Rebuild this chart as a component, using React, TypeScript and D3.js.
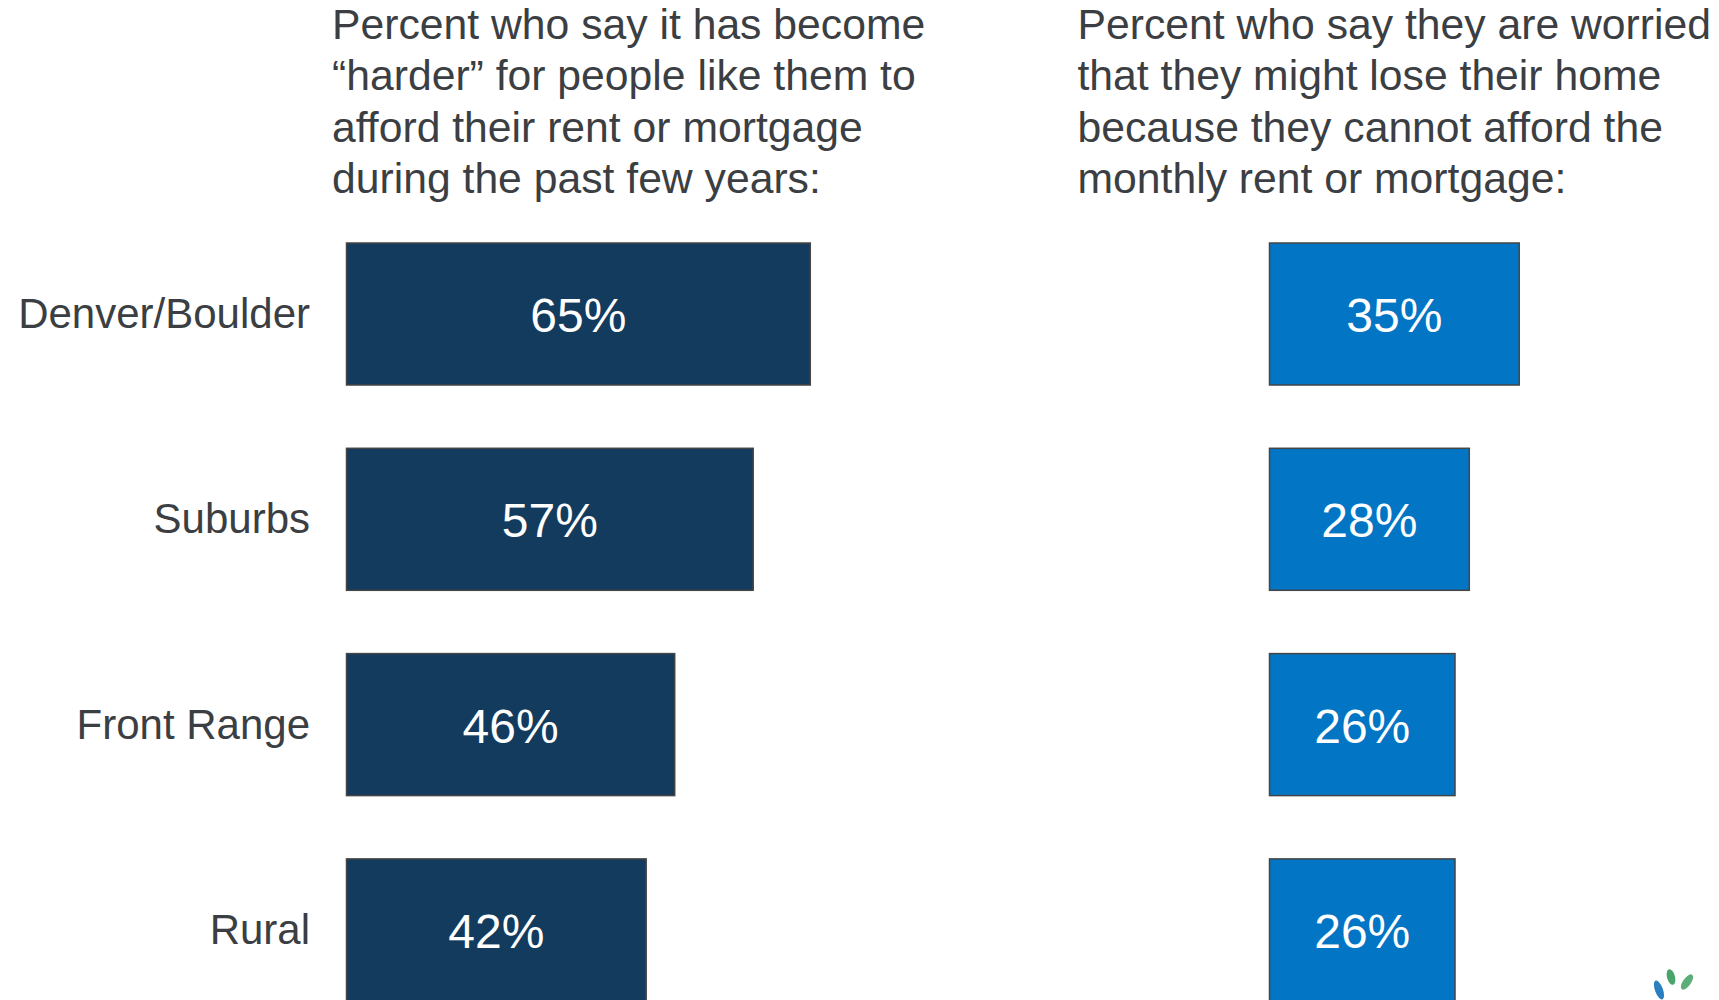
import React from "react";
import * as d3 from "d3";

const categories = ["Denver/Boulder", "Suburbs", "Front Range", "Rural"];
const harderValues = [65, 57, 46, 42];
const worriedValues = [35, 28, 26, 26];
const leftTitle = [
  "Percent who say it has become",
  "\u201Charder\u201D for people like them to",
  "afford their rent or mortgage",
  "during the past few years:",
];
const rightTitle = [
  "Percent who say they are worried",
  "that they might lose their home",
  "because they cannot afford the",
  "monthly rent or mortgage:",
];

const W = 1719;
const H = 1000;
const FONT = "'Liberation Sans', Arial, Helvetica, sans-serif";
const TEXT = "#3b3e42";

export default function App() {
  const x = d3.scaleLinear().domain([0, 100]).range([0, 713.5]);
  const y = d3
    .scaleBand<string>()
    .domain(categories)
    .range([243, 1000.9])
    .paddingInner(0.3083)
    .paddingOuter(0);
  const bw = y.bandwidth();

  const panels = [
    { x0: 346.5, values: harderValues, fill: "#133b5e", title: leftTitle, tx: 332 },
    { x0: 1269.5, values: worriedValues, fill: "#0275c4", title: rightTitle, tx: 1077.5 },
  ];

  return (
    <svg
      width={W}
      height={H}
      style={{ position: "absolute", left: 0, top: 0, background: "#fff" }}
      fontFamily={FONT}
    >
      <rect x={0} y={0} width={W} height={H} fill="#fff" />
      {panels.map((p, pi) => (
        <g key={pi}>
          {p.title.map((line, i) => (
            <text key={i} x={p.tx} y={38.5 + 51.6 * i} fontSize={42.7} fill={TEXT}>
              {line}
            </text>
          ))}
          {categories.map((c, i) => {
            const top = y(c)!;
            const w = x(p.values[i]);
            return (
              <g key={c}>
                <rect
                  x={p.x0}
                  y={top}
                  width={w}
                  height={bw}
                  fill={p.fill}
                  stroke="#454545"
                  strokeWidth={1.5}
                />
                <text
                  x={p.x0 + w / 2}
                  y={top + bw / 2 + 18}
                  textAnchor="middle"
                  fontSize={48}
                  fill="#ffffff"
                >
                  {p.values[i]}%
                </text>
              </g>
            );
          })}
        </g>
      ))}
      {categories.map((c) => (
        <text
          key={c}
          x={310}
          y={y(c)! + bw / 2 + 14}
          textAnchor="end"
          fontSize={42}
          fill={TEXT}
        >
          {c}
        </text>
      ))}
      <g>
        <ellipse cx={1659} cy={990} rx={4} ry={10} fill="#2a7fc0" transform="rotate(-20 1659 990)" />
        <ellipse cx={1671} cy={977} rx={4} ry={8} fill="#4aa56c" transform="rotate(-15 1671 977)" />
        <ellipse cx={1687} cy={982} rx={4} ry={9} fill="#5bae78" transform="rotate(35 1687 982)" />
      </g>
    </svg>
  );
}
